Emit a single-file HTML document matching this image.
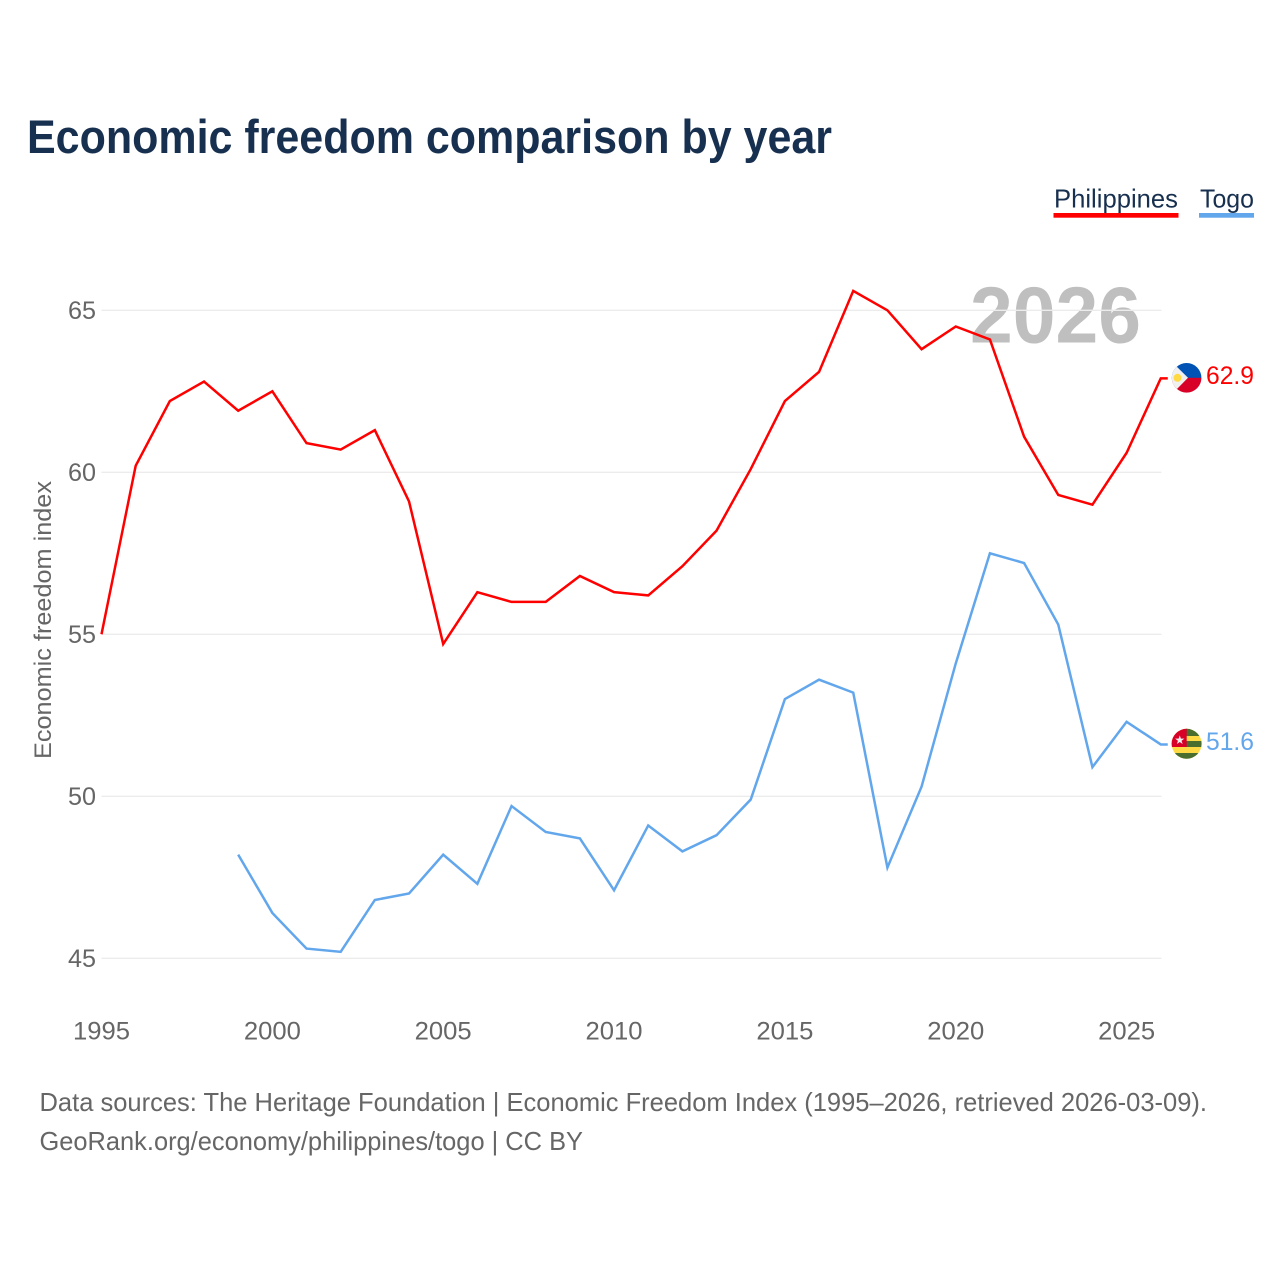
<!DOCTYPE html>
<html lang="en">
<head>
<meta charset="utf-8">
<title>Economic freedom comparison by year</title>
<style>
html,body{margin:0;padding:0;background:#fff;}
svg{display:block;font-family:"Liberation Sans",sans-serif;}
</style>
</head>
<body>
<svg id="chart" width="1280" height="1280" viewBox="0 0 1280 1280">
  <rect width="1280" height="1280" fill="#fff"/>
  <text x="27" y="153" font-size="47" font-weight="700" fill="#18304f" textLength="805" lengthAdjust="spacingAndGlyphs">Economic freedom comparison by year</text>

  <g>
    <text x="1054" y="207.7" font-size="26" fill="#18304f" textLength="124" lengthAdjust="spacingAndGlyphs">Philippines</text>
    <rect x="1053.5" y="213" width="125" height="4.7" fill="#ff0000"/>
  </g>
  <g>
    <text x="1200" y="207.7" font-size="26" fill="#18304f" textLength="54" lengthAdjust="spacingAndGlyphs">Togo</text>
    <rect x="1199" y="213" width="55" height="4.7" fill="#62a6ec"/>
  </g>

  <text x="1141" y="342.5" text-anchor="end" font-size="80" font-weight="700" fill="#bfbfbf" textLength="171" lengthAdjust="spacingAndGlyphs">2026</text>

  <g id="grid"></g>
  <g id="yticks"></g>
  <g id="xticks"></g>
  <text transform="translate(51,620) rotate(-90)" text-anchor="middle" font-size="24" fill="#666" textLength="278" lengthAdjust="spacingAndGlyphs">Economic freedom index</text>

  <g id="series"></g>

  <defs>
    <clipPath id="flag-clip-ph"><circle cx="1186.6" cy="377.8" r="14.8"/></clipPath>
    <clipPath id="flag-clip-tg"><circle cx="1186.6" cy="743.8" r="15"/></clipPath>
  </defs>
  <g clip-path="url(#flag-clip-ph)">
    <rect x="1171" y="362" width="32" height="16" fill="#0052b4"/>
    <rect x="1171" y="377.8" width="32" height="16" fill="#d80027"/>
    <polygon points="1171,361 1188,377.8 1171,395" fill="#f0f0f0"/>
    <circle cx="1177.5" cy="377.8" r="4" fill="#ffda44"/>
  </g>
  <g clip-path="url(#flag-clip-tg)">
    <rect x="1171" y="728" width="32" height="32" fill="#ffda44"/>
    <rect x="1186" y="728" width="17" height="8" fill="#496e2d"/>
    <rect x="1186" y="741" width="17" height="6" fill="#496e2d"/>
    <rect x="1171" y="753" width="32" height="7" fill="#496e2d"/>
    <rect x="1171" y="728" width="15.7" height="19" fill="#d80027"/>
    <text x="1179.7" y="744" text-anchor="middle" font-size="12" fill="#f0f0f0">★</text>
  </g>

  <g id="end-labels"></g>

  <text x="39.5" y="1111" font-size="26" fill="#666" textLength="1167.5" lengthAdjust="spacingAndGlyphs">Data sources: The Heritage Foundation | Economic Freedom Index (1995–2026, retrieved 2026-03-09).</text>
  <text x="39.5" y="1150" font-size="26" fill="#666" textLength="543.5" lengthAdjust="spacingAndGlyphs">GeoRank.org/economy/philippines/togo | CC BY</text>
</svg>

<script>
const years = [1995,1996,1997,1998,1999,2000,2001,2002,2003,2004,2005,2006,2007,2008,2009,2010,2011,2012,2013,2014,2015,2016,2017,2018,2019,2020,2021,2022,2023,2024,2025,2026];
const philippinesValues = [55,60.2,62.2,62.8,61.9,62.5,60.9,60.7,61.3,59.1,54.7,56.3,56,56,56.8,56.3,56.2,57.1,58.2,60.1,62.2,63.1,65.6,65,63.8,64.5,64.1,61.1,59.3,59,60.6,62.9];
const togoValues = [null,null,null,null,48.2,46.4,45.3,45.2,46.8,47,48.2,47.3,49.7,48.9,48.7,47.1,49.1,48.3,48.8,49.9,53,53.6,53.2,47.8,50.3,54.1,57.5,57.2,55.3,50.9,52.3,51.6];
const yTickValues = [45,50,55,60,65];
const xTickValues = [1995,2000,2005,2010,2015,2020,2025];

const NS = 'http://www.w3.org/2000/svg';
function xScale(year){ return 101.5 + (year - 1995) * 34.17; }
function yScale(value){ return 958.3 - (value - 45) * 32.4; }
function make(tag, attrs, parent, text){
  const el = document.createElementNS(NS, tag);
  for (const k in attrs) el.setAttribute(k, attrs[k]);
  if (text !== undefined) el.textContent = text;
  parent.appendChild(el);
  return el;
}
const grid = document.getElementById('grid');
const yticks = document.getElementById('yticks');
const xticks = document.getElementById('xticks');
const series = document.getElementById('series');
const endLabels = document.getElementById('end-labels');

yTickValues.forEach(function(v){
  const line = make('line', {x1:101.5, x2:1161.5, y1:yScale(v), y2:yScale(v), stroke:'#ececec', 'stroke-width':1.4}, grid);
  
  
  const label = make('text', {x:96, y:yScale(v)+8.5, 'text-anchor':'end', 'font-size':25, fill:'#666', textLength:28, lengthAdjust:'spacingAndGlyphs'}, yticks, String(v));
  
  
});

xTickValues.forEach(function(y){
  const label = make('text', {x:xScale(y), y:1039.5, 'text-anchor':'middle', 'font-size':25, fill:'#666', textLength:57, lengthAdjust:'spacingAndGlyphs'}, xticks, String(y));
  
  
});

function linePath(values){
  let d = '', pen = false;
  values.forEach(function(v, i){
    if (v === null) { pen = false; return; }
    d += (pen ? 'L' : 'M') + xScale(years[i]).toFixed(2) + ' ' + yScale(v).toFixed(2);
    pen = true;
  });
  const last = values[values.length - 1];
  d += 'L' + (xScale(years[years.length - 1]) + 7).toFixed(2) + ' ' + yScale(last).toFixed(2);
  return d;
}

const togoLine = make('path', {d:linePath(togoValues), fill:'none', stroke:'#62a6ec', 'stroke-width':2.5, 'stroke-linejoin':'miter'}, series);


const phLine = make('path', {d:linePath(philippinesValues), fill:'none', stroke:'#ff0000', 'stroke-width':2.5, 'stroke-linejoin':'miter'}, series);



const phLabel = make('text', {x:1254, y:384, 'text-anchor':'end', 'font-size':25, fill:'#ff0000', textLength:48, lengthAdjust:'spacingAndGlyphs'}, endLabels, philippinesValues[philippinesValues.length-1].toFixed(1));


const tgLabel = make('text', {x:1254, y:750, 'text-anchor':'end', 'font-size':25, fill:'#62a6ec', textLength:48, lengthAdjust:'spacingAndGlyphs'}, endLabels, togoValues[togoValues.length-1].toFixed(1));


</script>
</body>
</html>
